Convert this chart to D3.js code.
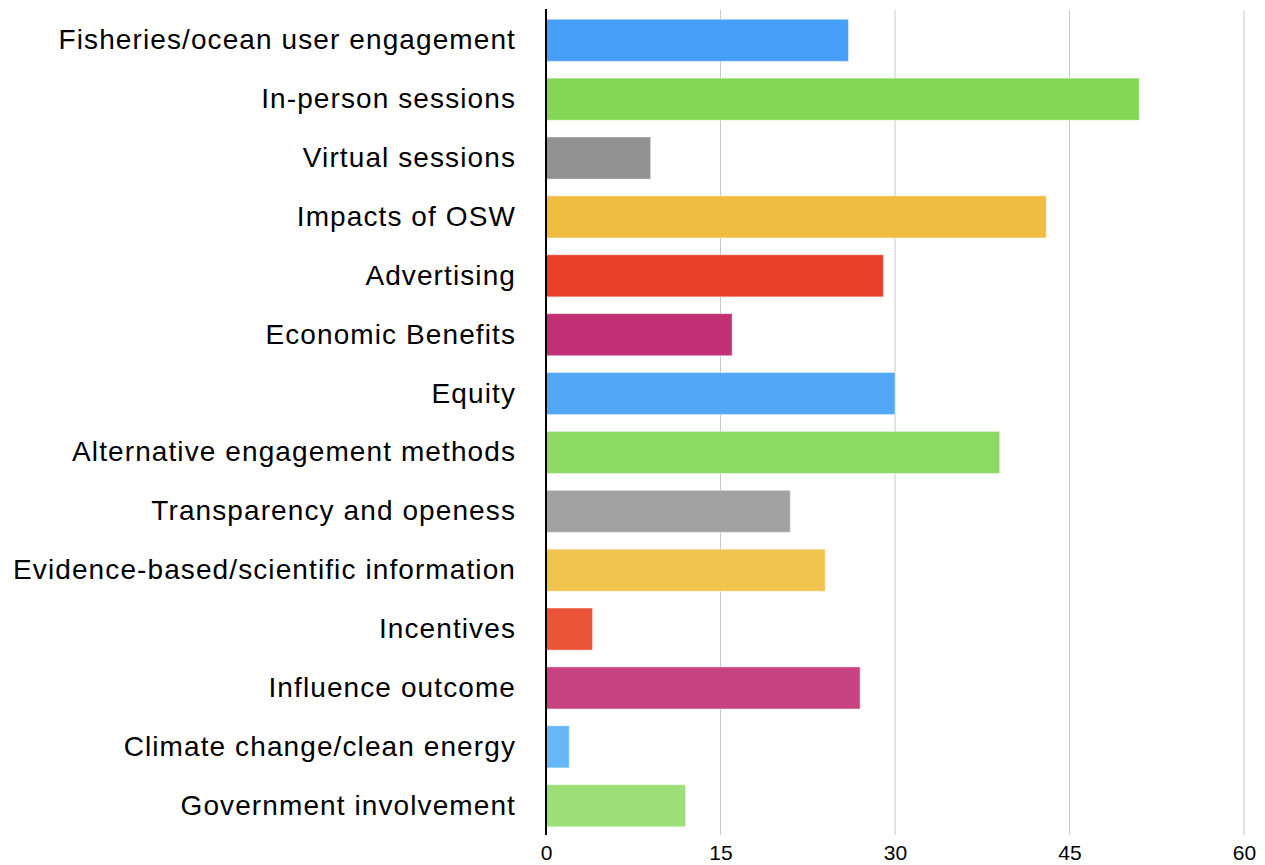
<!DOCTYPE html>
<html>
<head>
<meta charset="utf-8">
<script src="https://cdn.jsdelivr.net/npm/d3@7"></script>
<style>
  html, body { margin: 0; padding: 0; background: #fff; }
  svg { display: block; }
  text { font-family: "Liberation Sans", Arial, Helvetica, sans-serif; fill: #000; }
</style>
</head>
<body>
<svg id="chart" width="1265" height="865"></svg>
<script>
const categories = [
  "Fisheries/ocean user engagement",
  "In-person sessions",
  "Virtual sessions",
  "Impacts of OSW",
  "Advertising",
  "Economic Benefits",
  "Equity",
  "Alternative engagement methods",
  "Transparency and openess",
  "Evidence-based/scientific information",
  "Incentives",
  "Influence outcome",
  "Climate change/clean energy",
  "Government involvement"
];
const values = [26, 51, 9, 43, 29, 16, 30, 39, 21, 24, 4, 27, 2, 12];
const barColors = [
  "#479ff8", "#83d754", "#929292", "#efbd42", "#e9402a", "#c12f74", "#52a8f6",
  "#8cda62", "#a2a2a2", "#f1c34f", "#ea5537", "#c84382", "#67b8f9", "#9de07a"
];
const xTicks = [0, 15, 30, 45, 60];

const svg = d3.select("#chart");
const plotLeft = 546, plotRight = 1244, plotTop = 11, plotBottom = 835;

const x = d3.scaleLinear().domain([0, 60]).range([plotLeft, plotRight]);
const y = d3.scaleBand().domain(categories).range([plotTop, plotBottom]).paddingInner(0.285).paddingOuter(0.14);

// vertical gridlines
svg.append("g")
  .selectAll("line")
  .data(xTicks.filter(d => d > 0))
  .join("line")
  .attr("x1", d => x(d)).attr("x2", d => x(d))
  .attr("y1", 10).attr("y2", plotBottom)
  .attr("stroke", "#c8c8c8")
  .attr("stroke-width", 1);

// bars
svg.append("g")
  .selectAll("rect")
  .data(values)
  .join("rect")
  .attr("x", x(0))
  .attr("y", (d, i) => y(categories[i]))
  .attr("width", d => x(d) - x(0))
  .attr("height", y.bandwidth())
  .attr("fill", (d, i) => barColors[i])
  .attr("stroke", "rgba(255,255,255,0.45)")
  .attr("stroke-width", 1);

// category axis
const yAxis = d3.axisLeft(y).tickSize(0).tickPadding(30);
const gy = svg.append("g").attr("transform", `translate(${plotLeft},0)`).call(yAxis);
gy.select(".domain").remove();
gy.selectAll("text")
  .attr("font-size", 28)
  .attr("letter-spacing", "1.1px")
  .attr("font-family", "Liberation Sans, Arial, sans-serif")
  .attr("fill", "#000");

// value axis labels
const xAxis = d3.axisBottom(x).tickValues(xTicks).tickSize(0).tickPadding(0);
const gx = svg.append("g").attr("transform", `translate(0,${plotBottom + 10})`).call(xAxis);
gx.select(".domain").remove();
gx.selectAll("text").attr("font-size", 21).attr("font-family", "Liberation Sans, Arial, sans-serif").attr("fill", "#000");

// baseline
svg.append("line")
  .attr("x1", x(0)).attr("x2", x(0))
  .attr("y1", 9).attr("y2", plotBottom)
  .attr("stroke", "#000")
  .attr("stroke-width", 2);
</script>
</body>
</html>
